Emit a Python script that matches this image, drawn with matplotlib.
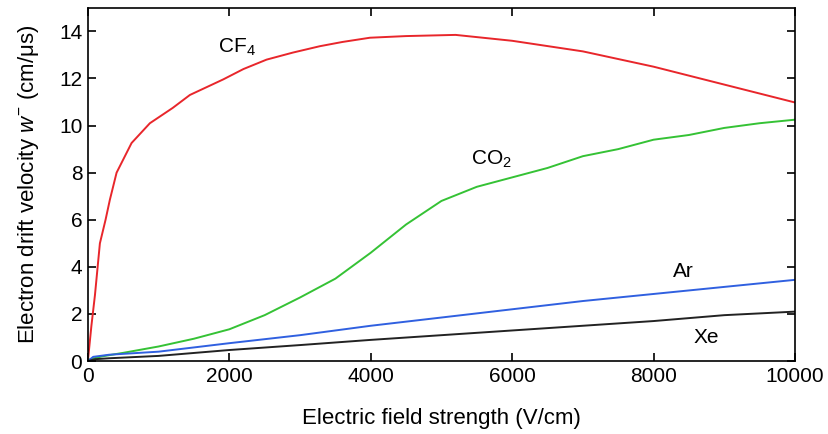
import matplotlib
matplotlib.use('Agg')
import matplotlib.pyplot as plt

plt.rcParams['font.family'] = ['Liberation Sans', 'DejaVu Sans']
plt.rcParams['mathtext.fontset'] = 'custom'
plt.rcParams['mathtext.it'] = 'Liberation Sans:italic'
plt.rcParams['mathtext.rm'] = 'Liberation Sans'

# CF4
cf4_x = [0, 50, 100, 170, 250, 311, 406, 618, 877, 1200, 1443, 1914, 2200, 2527, 2900, 3281,
         3600, 3989, 4500, 5200, 6000, 7000, 8000, 9000, 10000]
cf4_y = [0, 1.5, 2.8, 5.0, 6.0, 6.85, 8.0, 9.26, 10.1, 10.75, 11.3, 11.96, 12.4, 12.8, 13.1, 13.37,
         13.55, 13.73, 13.8, 13.85, 13.6, 13.15, 12.5, 11.74, 10.98]

# CO2
co2_x = [0, 200, 500, 1000, 1500, 2000, 2500, 3000, 3500, 4000, 4500, 5000, 5500, 6000, 6500,
         7000, 7500, 8000, 8500, 9000, 9500, 10000]
co2_y = [0.05, 0.2, 0.35, 0.62, 0.95, 1.35, 1.95, 2.7, 3.5, 4.6, 5.8, 6.8, 7.4, 7.8, 8.2,
         8.7, 9.0, 9.4, 9.6, 9.9, 10.1, 10.25]

# Ar
ar_x = [0, 75, 300, 1000, 2000, 3000, 4000, 5000, 6000, 7000, 8000, 9000, 10000]
ar_y = [0, 0.18, 0.27, 0.4, 0.76, 1.1, 1.5, 1.85, 2.2, 2.55, 2.85, 3.15, 3.45]

# Xe
xe_x = [0, 100, 300, 1000, 2000, 3000, 4000, 5000, 6000, 7000, 8000, 9000, 10000]
xe_y = [0, 0.08, 0.12, 0.22, 0.47, 0.68, 0.9, 1.1, 1.3, 1.5, 1.7, 1.95, 2.1]

fig = plt.figure(figsize=(8.29, 4.34), dpi=100)
ax = fig.add_axes([0.106, 0.168, 0.853, 0.814])

ax.plot(cf4_x, cf4_y, color='#e8262b', lw=1.4)
ax.plot(co2_x, co2_y, color='#35c235', lw=1.4)
ax.plot(ar_x, ar_y, color='#3060e0', lw=1.4)
ax.plot(xe_x, xe_y, color='#222222', lw=1.4)

ax.text(2109, 13.3, r'CF$_4$', fontsize=15, ha='center', va='center')
ax.text(5714, 8.55, r'CO$_2$', fontsize=15, ha='center', va='center')
ax.text(8416, 3.8, 'Ar', fontsize=15, ha='center', va='center')
ax.text(8741, 1.0, 'Xe', fontsize=15, ha='center', va='center')

ax.set_xlim(0, 10000)
ax.set_ylim(0, 15)
ax.set_xticks([0, 2000, 4000, 6000, 8000, 10000])
ax.set_yticks([0, 2, 4, 6, 8, 10, 12, 14])
ax.tick_params(direction='in', top=True, right=True, labelsize=15, length=6, width=1.2, pad=4)
for s in ax.spines.values():
    s.set_linewidth(1.2)

ax.set_xlabel('Electric field strength (V/cm)', fontsize=16, labelpad=16)
ax.set_ylabel(r'Electron drift velocity $w^{-}$ (cm/μs)', fontsize=16, labelpad=13)

fig.savefig('out.png', dpi=100)
